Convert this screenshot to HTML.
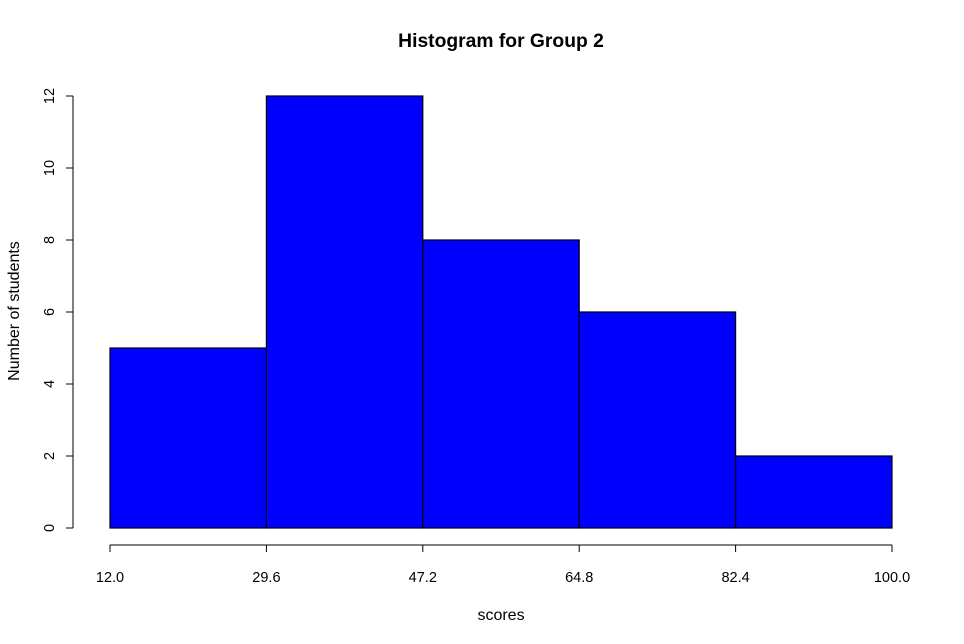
<!DOCTYPE html>
<html>
<head>
<meta charset="utf-8">
<style>
html,body{margin:0;padding:0;background:#fff;}
svg{display:block;font-family:"Liberation Sans",Arial,sans-serif;}
</style>
</head>
<body>
<svg id="chart" width="964" height="644" viewBox="0 0 964 644">
<rect width="964" height="644" fill="#fff"/>
<text x="501" y="47" text-anchor="middle" font-size="19.3" font-weight="bold">Histogram for Group 2</text>
<text x="501" y="620" text-anchor="middle" font-size="16">scores</text>
<text transform="translate(19,311) rotate(-90)" text-anchor="middle" font-size="16">Number of students</text>
<g id="bars"></g>
<g id="xaxis"></g>
<g id="yaxis"></g>
</svg>
<script>
const binEdges = [12.0, 29.6, 47.2, 64.8, 82.4, 100.0];
const counts = [5, 12, 8, 6, 2];
const xTickLabels = ["12.0", "29.6", "47.2", "64.8", "82.4", "100.0"];
const yTicks = [0, 2, 4, 6, 8, 10, 12];

const NS = "http://www.w3.org/2000/svg";
function xs(v){ return 110 + (v - 12) * (892 - 110) / (100 - 12); }
function ys(v){ return 528 - v * 36; }
function mk(tag, attrs, parent){
  const e = document.createElementNS(NS, tag);
  for (const k in attrs) e.setAttribute(k, attrs[k]);
  parent.appendChild(e);
  return e;
}
const bars = document.getElementById('bars');
counts.forEach((c, i) => {
  const r = mk('rect', {x: xs(binEdges[i]), y: ys(c), width: xs(binEdges[i+1]) - xs(binEdges[i]), height: ys(0) - ys(c), fill: '#0000ff', stroke: '#000', 'stroke-width': 1.2}, bars);
  
  
});
const xa = document.getElementById('xaxis');


mk('line', {x1: xs(binEdges[0]), x2: xs(binEdges[binEdges.length - 1]), y1: 545, y2: 545, stroke: '#000'}, xa);
xTickLabels.forEach((l, i) => {
  const x = xs(binEdges[i]);
  mk('line', {x1: x, x2: x, y1: 545, y2: 552, stroke: '#000'}, xa);
  const t = mk('text', {x: x, y: 582, 'text-anchor': 'middle', 'font-size': 14.5}, xa);
  t.textContent = l;
  
  
});
const ya = document.getElementById('yaxis');


mk('line', {x1: 73, x2: 73, y1: ys(yTicks[0]), y2: ys(yTicks[yTicks.length - 1]), stroke: '#000'}, ya);
yTicks.forEach(v => {
  const y = ys(v);
  mk('line', {x1: 66, x2: 73, y1: y, y2: y, stroke: '#000'}, ya);
  const t = mk('text', {transform: 'translate(54,' + y + ') rotate(-90)', 'text-anchor': 'middle', 'font-size': 14.5}, ya);
  t.textContent = v;
  
  
});
</script>
</body>
</html>
